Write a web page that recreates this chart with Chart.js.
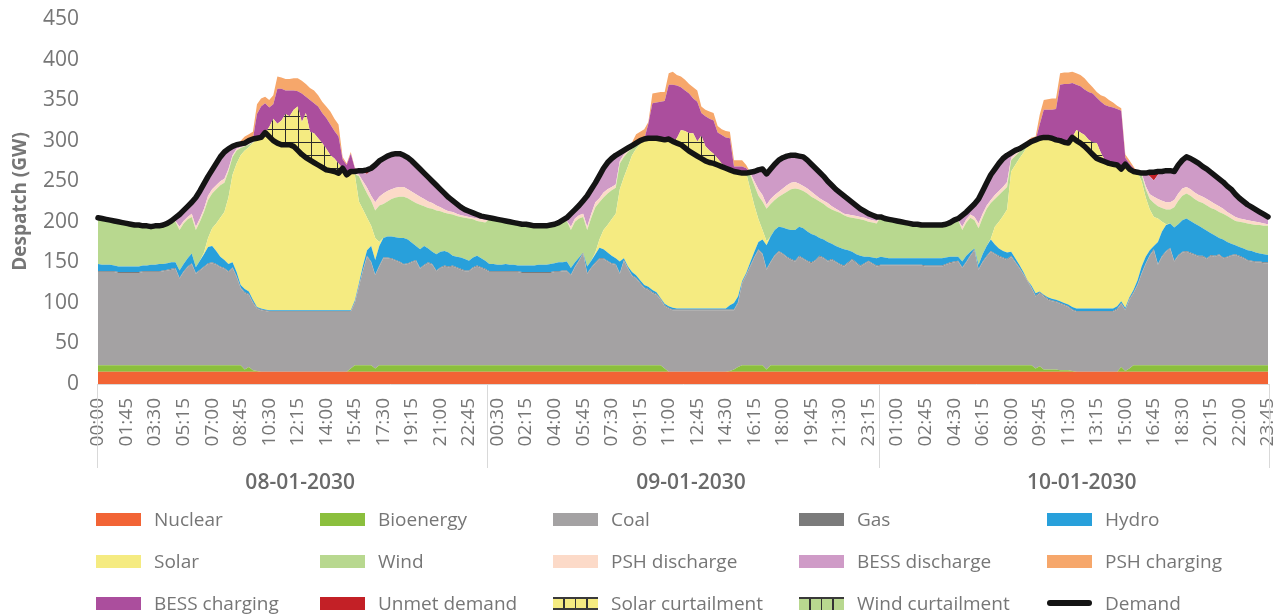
<!DOCTYPE html>
<html><head><meta charset="utf-8">
<script src="https://cdn.jsdelivr.net/npm/chart.js@4.4.1/dist/chart.umd.min.js"></script>
<style>
html,body{margin:0;padding:0;background:#fff;}
#wrap{position:relative;width:1282px;height:615px;overflow:hidden;}
#c{position:absolute;left:0;top:0;}
.lg{position:absolute;height:26px;display:flex;align-items:center;font-family:'Open Sans',sans-serif;font-size:19px;color:#767676;white-space:nowrap;}
.sw{width:45px;height:13px;margin-right:13px;box-sizing:border-box;flex:none;}
</style></head><body>
<div id="wrap"><canvas id="c" width="1282" height="615"></canvas><div id="legend"></div></div>
<script>
const DAYS = ["08-01-2030","09-01-2030","10-01-2030"];
const TIMES = ["00:00","00:15","00:30","00:45","01:00","01:15","01:30","01:45","02:00","02:15","02:30","02:45",
"03:00","03:15","03:30","03:45","04:00","04:15","04:30","04:45","05:00","05:15","05:30","05:45",
"06:00","06:15","06:30","06:45","07:00","07:15","07:30","07:45","08:00","08:15","08:30","08:45",
"09:00","09:15","09:30","09:45","10:00","10:15","10:30","10:45","11:00","11:15","11:30","11:45",
"12:00","12:15","12:30","12:45","13:00","13:15","13:30","13:45","14:00","14:15","14:30","14:45",
"15:00","15:15","15:30","15:45","16:00","16:15","16:30","16:45","17:00","17:15","17:30","17:45",
"18:00","18:15","18:30","18:45","19:00","19:15","19:30","19:45","20:00","20:15","20:30","20:45",
"21:00","21:15","21:30","21:45","22:00","22:15","22:30","22:45","23:00","23:15","23:30","23:45"];
const TICK_STEP = 7;
const Y_TICKS = [0,50,100,150,200,250,300,350,400,450];

const demand = [
205,204,203,202,201,200,199,198,197,196,196,195,195,194,195,195,196,198,201,205,209,214,219,224,
230,238,247,256,264,272,280,286,290,293,295,296,297,300,302,303,304,310,305,300,297,295,295,295,
293,288,283,279,276,273,270,267,264,263,262,260,266,258,262,262,263,263,264,266,270,275,278,281,
283,284,284,282,279,275,270,265,260,255,250,245,240,235,230,226,222,218,215,213,211,209,207,206,
205,204,203,202,201,200,199,198,197,197,196,195,195,195,195,196,197,199,202,205,210,215,220,226,
232,240,248,257,266,273,278,282,285,288,291,294,297,300,302,303,303,303,302,301,302,299,297,295,
291,287,284,281,278,275,273,272,270,268,266,264,262,261,260,260,261,262,264,265,259,265,271,276,
279,281,282,282,281,280,276,271,266,261,256,250,245,240,236,232,228,224,220,216,213,210,208,206,
206,204,203,202,201,200,199,198,197,197,196,196,196,196,196,196,197,199,202,204,208,212,217,222,
228,238,248,258,265,272,278,282,285,288,290,293,296,299,301,303,304,304,303,301,300,298,297,304,
300,297,293,288,283,278,276,274,272,271,270,265,271,265,262,261,260,260,261,261,262,262,263,263,
262,270,276,280,278,275,272,268,265,261,257,253,249,244,240,234,229,225,221,218,215,212,209,206];

const nuclear = [
15,15,15,15,15,15,15,15,15,15,15,15,15,15,15,15,15,15,15,15,15,15,15,15,
15,15,15,15,15,15,15,15,15,15,15,15,15,15,15,15,15,15,15,15,15,15,15,15,
15,15,15,15,15,15,15,15,15,15,15,15,15,15,15,15,15,15,15,15,15,15,15,15,
15,15,15,15,15,15,15,15,15,15,15,15,15,15,15,15,15,15,15,15,15,15,15,15,
15,15,15,15,15,15,15,15,15,15,15,15,15,15,15,15,15,15,15,15,15,15,15,15,
15,15,15,15,15,15,15,15,15,15,15,15,15,15,15,15,15,15,15,15,15,15,15,15,
15,15,15,15,15,15,15,15,15,15,15,15,15,15,15,15,15,15,15,15,15,15,15,15,
15,15,15,15,15,15,15,15,15,15,15,15,15,15,15,15,15,15,15,15,15,15,15,15,
15,15,15,15,15,15,15,15,15,15,15,15,15,15,15,15,15,15,15,15,15,15,15,15,
15,15,15,15,15,15,15,15,15,15,15,15,15,15,15,15,15,15,15,15,15,15,15,15,
15,15,15,15,15,15,15,15,15,15,15,15,15,15,15,15,15,15,15,15,15,15,15,15,
15,15,15,15,15,15,15,15,15,15,15,15,15,15,15,15,15,15,15,15,15,15,15,15];

const bioenergy = [
8,8,8,8,8,8,8,8,8,8,8,8,8,8,8,8,8,8,8,8,8,8,8,8,
8,8,8,8,8,8,8,8,8,8,8,8,3,6,2,1,0,0,0,0,0,0,0,0,
0,0,0,0,0,0,0,0,0,0,0,0,0,0,4,8,8,8,8,8,4,8,8,8,
8,8,8,8,8,8,8,8,8,8,8,8,8,8,8,8,8,8,8,8,8,8,8,8,
8,8,8,8,8,8,8,8,8,8,8,8,8,8,8,8,8,8,8,8,8,8,8,8,
8,8,8,8,8,8,8,8,8,8,8,8,8,8,8,8,8,8,8,4,0,0,0,0,
0,0,0,0,0,0,0,0,0,0,0,1,3,6,8,8,8,8,8,8,3,8,8,8,
8,8,8,8,8,8,8,8,8,8,8,8,8,8,8,8,8,8,8,8,8,8,8,8,
8,8,8,8,8,8,8,8,8,8,8,8,8,8,8,8,8,8,8,8,8,8,8,8,
8,8,8,8,8,8,8,8,8,8,8,8,8,8,4,7,3,3,3,3,2,2,2,1,
0,0,0,0,0,0,0,0,0,0,0,6,1,4,8,8,8,8,8,8,8,8,8,8,
8,8,8,8,8,8,8,8,8,8,8,8,8,8,8,8,8,8,8,8,8,8,8,8];

const coal = [
115,115,115,115,115,114,114,114,114,114,114,115,115,115,115,115,116,117,118,119,107,115,121,125,
113,117,121,125,126,124,121,119,115,120,109,95,94,89,83,77,76,75,74,74,74,74,74,74,
74,74,74,74,74,74,74,74,74,74,74,74,74,74,70,77,97,117,134,127,115,122,132,132,
131,129,127,124,125,127,129,119,123,126,124,116,120,122,121,122,120,118,116,116,120,122,120,118,
115,115,115,115,115,115,115,115,114,114,114,114,114,114,114,114,115,115,116,116,111,121,129,138,
113,120,126,131,131,128,125,124,113,129,119,110,107,101,95,93,89,87,81,77,78,76,76,76,
76,76,76,76,76,76,76,76,76,76,76,75,73,79,101,111,122,133,142,137,123,127,135,140,
137,133,130,128,134,131,128,126,129,134,132,128,130,127,124,122,126,130,126,122,125,128,125,122,
123,123,123,123,123,123,123,123,123,123,123,122,122,122,122,122,124,126,127,128,120,127,135,142,
118,127,134,140,137,134,132,130,134,127,120,112,104,95,89,90,90,86,84,83,82,80,78,75,
74,74,74,74,74,74,74,74,74,74,77,78,75,85,89,99,113,125,135,142,124,134,140,144,
128,135,139,140,138,136,134,134,131,135,134,136,132,133,135,136,134,132,129,128,127,127,126,126];

const gas = [
1,1,1,1,1,1,1,1,1,1,1,1,1,1,1,1,1,1,1,1,1,1,1,1,
1,1,1,1,1,1,1,1,1,1,1,1,1,1,1,1,1,1,1,1,1,1,1,1,
1,1,1,1,1,1,1,1,1,1,1,1,1,1,1,1,1,1,1,1,1,1,1,1,
1,1,1,1,1,1,1,1,1,1,1,1,1,1,1,1,1,1,1,1,1,1,1,1,
1,1,1,1,1,1,1,1,1,1,1,1,1,1,1,1,1,1,1,1,1,1,1,1,
1,1,1,1,1,1,1,1,1,1,1,1,1,1,1,1,1,1,1,1,1,1,1,1,
1,1,1,1,1,1,1,1,1,1,1,1,1,1,1,1,1,1,1,1,1,1,1,1,
1,1,1,1,1,1,1,1,1,1,1,1,1,1,1,1,1,1,1,1,1,1,1,1,
1,1,1,1,1,1,1,1,1,1,1,1,1,1,1,1,1,1,1,1,1,1,1,1,
1,1,1,1,1,1,1,1,1,1,1,1,1,1,1,1,1,1,1,1,1,1,1,1,
1,1,1,1,1,1,1,1,1,1,1,1,1,1,1,1,1,1,1,1,1,1,1,1,
1,1,1,1,1,1,1,1,1,1,1,1,1,1,1,1,1,1,1,1,1,1,1,1];

const hydro = [
9,8,8,8,7,7,7,7,7,7,7,7,7,8,8,9,8,8,8,7,9,9,10,12,
7,11,15,20,20,16,12,10,9,6,5,3,4,3,3,1,1,1,1,1,1,1,1,1,
1,1,1,1,1,1,1,1,1,1,1,1,1,1,1,2,3,5,7,19,18,24,24,26,
27,28,29,32,29,23,17,23,23,17,15,20,19,18,17,12,13,14,14,12,12,12,11,10,
9,9,8,8,9,8,8,7,8,8,8,8,9,9,9,10,10,11,10,11,8,5,3,0,
8,8,10,13,11,10,9,7,14,2,2,4,3,3,3,3,3,2,1,2,2,2,1,1,
1,1,1,1,1,1,1,1,1,1,1,5,8,7,2,2,4,6,9,17,29,31,31,30,
32,34,36,38,36,37,36,35,30,22,22,23,19,19,20,20,15,9,10,12,8,5,7,9,
10,9,8,8,8,8,8,8,8,8,8,9,9,9,9,9,8,7,6,5,7,7,4,1,
5,9,12,14,11,9,8,8,5,4,3,2,0,2,3,1,1,2,2,2,2,2,2,3,
3,3,3,3,3,3,3,3,3,3,3,2,2,2,3,5,8,8,6,4,27,30,32,30,
41,38,39,40,39,38,37,34,34,27,25,20,22,18,14,11,11,11,12,12,11,10,10,9];

const solar = [
0,0,0,0,0,0,0,0,0,0,0,0,0,0,0,0,0,0,0,0,0,0,0,0,
0,0,2,11,22,34,48,59,82,108,134,160,171,178,193,206,211,218,214,209,206,204,204,204,
202,197,192,188,185,182,179,176,173,172,171,169,175,167,171,155,101,69,40,25,27,5,0,0,
0,0,0,0,0,0,0,0,0,0,0,0,0,0,0,0,0,0,0,0,0,0,0,0,
0,0,0,0,0,0,0,0,0,0,0,0,0,0,0,0,0,0,0,0,0,0,0,0,
0,0,2,10,24,34,45,55,89,100,123,144,156,168,180,183,187,190,196,202,206,205,204,202,
198,194,191,188,185,182,180,179,177,175,173,167,162,153,133,123,90,57,28,12,5,0,0,0,
0,0,0,0,0,0,0,0,0,0,0,0,0,0,0,0,0,0,0,0,0,0,0,0,
0,0,0,0,0,0,0,0,0,0,0,0,0,0,0,0,0,0,0,0,0,0,0,0,
0,0,0,1,22,33,43,53,99,115,131,147,165,178,189,189,194,197,198,197,198,198,199,209,
207,204,200,195,190,185,183,181,179,178,174,163,177,158,146,133,105,73,50,36,29,12,1,0,
0,0,0,0,0,0,0,0,0,0,0,0,0,0,0,0,0,0,0,0,0,0,0,0];

const wind = [
57,57,56,55,55,55,54,53,52,51,51,49,49,47,48,47,48,49,49,50,50,50,48,45,
46,48,50,47,43,42,40,36,32,22,16,9,5,3,1,1,0,0,0,0,0,0,0,0,
0,0,0,0,0,0,0,0,0,0,0,0,0,0,0,1,31,30,30,31,34,45,42,43,
46,49,51,51,51,52,53,55,49,50,53,54,50,47,48,51,50,50,51,52,47,43,45,47,
55,54,54,53,52,52,51,51,51,51,50,49,48,48,48,48,48,49,50,50,47,50,48,44,
45,53,56,46,40,39,36,32,32,25,18,8,4,2,0,0,0,0,0,0,0,0,0,0,
0,0,0,0,0,0,0,0,0,0,0,0,0,0,0,0,18,25,29,35,40,40,37,37,
41,46,50,51,46,46,47,46,45,45,44,43,42,43,43,42,41,42,44,45,45,43,43,43,
49,48,48,47,46,45,44,43,42,42,41,41,41,41,41,41,41,42,44,45,39,41,42,35,
45,45,46,44,34,33,31,28,14,11,8,5,1,0,0,0,0,0,0,0,0,0,0,0,
0,0,0,0,0,0,0,0,0,0,0,0,0,0,0,0,8,10,13,17,15,17,18,17,
25,29,30,31,31,30,30,31,31,31,32,32,32,32,31,30,31,32,33,33,34,35,35,36];

const pshDischarge = [
0,0,0,0,0,0,0,0,0,0,0,0,0,0,0,0,0,0,0,1,4,3,3,4,
4,4,4,5,5,5,5,5,3,2,2,1,1,1,0,0,0,0,0,0,0,0,0,0,
0,0,0,0,0,0,0,0,0,0,0,0,0,0,0,1,2,5,7,6,10,11,13,13,
12,12,12,12,11,11,11,10,9,8,7,6,5,4,3,3,3,2,2,2,2,3,3,3,
0,0,0,0,0,0,0,0,0,0,0,0,0,0,0,0,0,0,0,0,4,4,4,4,
4,5,6,5,6,5,4,4,3,3,2,2,2,1,0,0,0,0,0,0,0,0,0,0,
0,0,0,0,0,0,0,0,0,0,0,0,0,0,0,0,2,5,8,8,5,6,6,6,
7,8,8,8,7,6,6,6,5,4,4,5,4,3,2,2,3,3,3,3,3,3,3,3,
0,0,0,0,0,0,0,0,0,0,0,0,0,0,0,0,0,0,0,0,4,4,4,4,
6,5,4,4,5,5,5,6,3,3,3,2,2,0,0,0,0,0,0,0,0,0,0,0,
0,0,0,0,0,0,0,0,0,0,0,0,0,0,0,0,2,4,6,8,9,9,9,9,
9,9,9,8,8,8,8,8,8,8,7,7,6,5,5,5,4,4,4,4,4,3,3,2];

const bessDischarge = [
0,0,0,0,0,0,0,0,0,0,0,0,0,0,0,0,0,0,2,4,15,13,13,14,
36,34,31,24,24,27,30,33,25,11,5,4,3,4,4,1,0,0,0,0,0,0,0,0,
0,0,0,0,0,0,0,0,0,0,0,0,0,0,0,2,5,11,17,32,46,44,43,43,
43,42,41,39,39,38,36,34,32,30,27,25,22,20,17,14,12,10,8,7,6,5,4,4,
2,2,2,2,1,1,1,1,0,0,0,0,0,0,0,0,0,0,2,4,16,11,12,16,
38,30,24,28,30,33,35,36,10,5,3,2,1,1,0,0,0,0,0,0,0,0,0,0,
0,0,0,0,0,0,0,0,0,0,0,0,0,0,0,0,1,12,24,30,38,37,38,39,
38,36,34,33,34,36,35,34,33,32,30,27,26,24,23,22,19,16,13,10,8,7,6,5,
0,0,0,0,0,0,0,0,0,0,0,0,0,0,0,0,0,0,1,2,14,9,8,16,
30,28,28,31,32,34,35,33,6,4,1,1,0,0,0,0,0,0,0,0,0,0,0,0,
0,0,0,0,0,0,0,0,0,0,0,0,0,0,0,0,0,16,22,20,30,36,39,39,
35,35,35,37,38,39,39,37,37,36,35,34,33,32,31,28,25,22,19,17,15,13,11,9];

const unmetDemand = [
0,0,0,0,0,0,0,0,0,0,0,0,0,0,0,0,0,0,0,0,0,0,0,0,
0,0,0,0,0,0,0,0,0,0,0,0,0,0,0,0,0,0,0,0,0,0,0,0,
0,0,0,0,0,0,0,0,0,0,0,0,0,0,0,0,0,2,5,2,0,0,0,0,
0,0,0,0,0,0,0,0,0,0,0,0,0,0,0,0,0,0,0,0,0,0,0,0,
0,0,0,0,0,0,0,0,0,0,0,0,0,0,0,0,0,0,0,0,0,0,0,0,
0,0,0,0,0,0,0,0,0,0,0,0,0,0,0,0,0,0,0,0,0,0,0,0,
0,0,0,0,0,0,0,0,0,0,0,0,0,0,0,0,0,0,0,2,0,0,0,0,
0,0,0,0,0,0,0,0,0,0,0,0,0,0,0,0,0,0,0,0,0,0,0,0,
0,0,0,0,0,0,0,0,0,0,0,0,0,0,0,0,0,0,0,0,0,0,0,0,
0,0,0,0,0,0,0,0,0,0,0,0,0,0,0,0,0,0,0,0,0,0,0,0,
0,0,0,0,0,0,0,0,0,0,0,0,0,0,0,0,0,0,5,10,4,0,0,0,
0,0,0,0,0,0,0,0,0,0,0,0,0,0,0,0,0,0,0,0,0,0,0,0];

const solarCurtailment = [
0,0,0,0,0,0,0,0,0,0,0,0,0,0,0,0,0,0,0,0,0,0,0,0,
0,0,0,0,0,0,0,0,0,0,0,0,0,0,0,0,0,0,12,27,24,30,38,35,
45,54,40,55,35,36,33,30,26,19,16,12,0,0,0,0,0,0,0,0,0,0,0,0,
0,0,0,0,0,0,0,0,0,0,0,0,0,0,0,0,0,0,0,0,0,0,0,0,
0,0,0,0,0,0,0,0,0,0,0,0,0,0,0,0,0,0,0,0,0,0,0,0,
0,0,0,0,0,0,0,0,0,0,0,0,0,0,0,0,0,0,0,0,0,0,6,18,
21,22,25,18,28,18,15,12,8,4,2,0,0,0,0,0,0,0,0,0,0,0,0,0,
0,0,0,0,0,0,0,0,0,0,0,0,0,0,0,0,0,0,0,0,0,0,0,0,
0,0,0,0,0,0,0,0,0,0,0,0,0,0,0,0,0,0,0,0,0,0,0,0,
0,0,0,0,0,0,0,0,0,0,0,0,0,0,0,0,0,0,0,0,0,0,0,0,
13,13,14,13,15,19,9,2,0,0,0,0,0,0,0,0,0,0,0,0,0,0,0,0,
0,0,0,0,0,0,0,0,0,0,0,0,0,0,0,0,0,0,0,0,0,0,0,0];

const windCurtailment = [
0,0,0,0,0,0,0,0,0,0,0,0,0,0,0,0,0,0,0,0,0,0,0,0,
0,0,0,0,0,0,0,0,0,0,0,0,0,0,0,0,0,0,0,0,0,0,0,0,
0,0,0,0,0,0,0,0,0,0,0,0,0,0,0,0,0,0,0,0,0,0,0,0,
0,0,0,0,0,0,0,0,0,0,0,0,0,0,0,0,0,0,0,0,0,0,0,0,
0,0,0,0,0,0,0,0,0,0,0,0,0,0,0,0,0,0,0,0,0,0,0,0,
0,0,0,0,0,0,0,0,0,0,0,0,0,0,0,0,0,0,0,0,0,0,0,0,
0,0,0,0,0,0,0,0,0,0,0,0,0,0,0,0,0,0,0,0,0,0,0,0,
0,0,0,0,0,0,0,0,0,0,0,0,0,0,0,0,0,0,0,0,0,0,0,0,
0,0,0,0,0,0,0,0,0,0,0,0,0,0,0,0,0,0,0,0,0,0,0,0,
0,0,0,0,0,0,0,0,0,0,0,0,0,0,0,0,0,0,0,0,0,0,0,0,
0,0,0,0,0,0,0,0,0,0,0,0,0,0,0,0,0,0,0,0,0,0,0,0,
0,0,0,0,0,0,0,0,0,0,0,0,0,0,0,0,0,0,0,0,0,0,0,0];

const bessCharging = [
0,0,0,0,0,0,0,0,0,0,0,0,0,0,0,0,0,0,0,0,0,0,0,0,
0,0,0,0,0,0,0,0,0,0,0,0,0,0,0,30,38,36,24,18,43,39,29,32,
24,19,35,20,39,37,39,37,38,38,34,33,11,12,22,4,0,0,0,0,0,0,0,0,
0,0,0,0,0,0,0,0,0,0,0,0,0,0,0,0,0,0,0,0,0,0,0,0,
0,0,0,0,0,0,0,0,0,0,0,0,0,0,0,0,0,0,0,0,0,0,0,0,
0,0,0,0,0,0,0,0,0,0,0,0,0,0,0,18,43,44,46,48,67,70,65,53,
50,49,43,49,28,37,39,41,32,35,36,39,6,7,8,6,0,0,0,0,0,0,0,0,
0,0,0,0,0,0,0,0,0,0,0,0,0,0,0,0,0,0,0,0,0,0,0,0,
0,0,0,0,0,0,0,0,0,0,0,0,0,0,0,0,0,0,0,0,0,0,0,0,
0,0,0,0,0,0,0,0,0,0,0,0,0,0,0,17,34,34,35,38,69,72,73,67,
56,57,56,59,60,56,63,68,70,70,69,72,8,7,4,0,0,0,0,0,0,0,0,0,
0,0,0,0,0,0,0,0,0,0,0,0,0,0,0,0,0,0,0,0,0,0,0,0];

const pshCharging = [
0,0,0,0,0,0,0,0,0,0,0,0,0,0,0,0,0,0,0,0,0,0,0,0,
0,0,0,0,0,0,0,0,0,0,0,4,8,8,9,12,10,8,9,11,15,14,14,14,
15,16,16,16,15,16,14,14,14,16,15,15,3,2,2,1,0,0,0,0,0,0,0,0,
0,0,0,0,0,0,0,0,0,0,0,0,0,0,0,0,0,0,0,0,0,0,0,0,
0,0,0,0,0,0,0,0,0,0,0,0,0,0,0,0,0,0,0,0,0,0,0,0,
0,0,0,0,0,0,0,0,0,0,0,4,11,11,12,2,12,12,12,11,14,16,13,13,
13,12,14,14,8,8,9,9,8,7,8,8,8,8,8,4,0,0,0,0,0,0,0,0,
0,0,0,0,0,0,0,0,0,0,0,0,0,0,0,0,0,0,0,0,0,0,0,0,
0,0,0,0,0,0,0,0,0,0,0,0,0,0,0,0,0,0,0,0,0,0,0,0,
0,0,0,0,0,0,0,0,0,0,0,0,4,5,4,12,12,13,14,13,14,14,14,14,
14,14,14,11,8,7,8,10,8,6,4,3,4,4,2,0,0,0,0,0,0,0,0,0,
0,0,0,0,0,0,0,0,0,0,0,0,0,0,0,0,0,0,0,0,0,0,0,0];

// ---- chart setup ----
const canvas = document.getElementById('c');
const ctx0 = canvas.getContext('2d');
function hatch(bg) {
  const c = document.createElement('canvas'); c.width = 13; c.height = 13;
  const g = c.getContext('2d');
  g.fillStyle = bg; g.fillRect(0, 0, 13, 13);
  g.fillStyle = '#2a2a2a'; g.fillRect(12, 0, 1, 13); g.fillRect(0, 12, 13, 1);
  return ctx0.createPattern(c, 'repeat');
}

const STACK = [
  ['Nuclear', nuclear, '#f26435'],
  ['Bioenergy', bioenergy, '#8bbf3d'],
  ['Coal', coal, '#a4a2a3'],
  ['Gas', gas, '#7b7b7b'],
  ['Hydro', hydro, '#28a0db'],
  ['Solar', solar, '#f5eb81'],
  ['Wind', wind, '#b8d88f'],
  ['PSH discharge', pshDischarge, '#fcdac8'],
  ['BESS discharge', bessDischarge, '#cf9bc7'],
  ['Unmet demand', unmetDemand, '#c32026'],
  ['Solar curtailment', solarCurtailment, hatch('#f5eb81')],
  ['Wind curtailment', windCurtailment, hatch('#b8d88f')],
  ['BESS charging', bessCharging, '#ab4e9d'],
  ['PSH charging', pshCharging, '#f6a76b']
];
const N = DAYS.length * TIMES.length;
[['demand', demand]].concat(STACK.map(s => [s[0], s[1]])).forEach(([n, a]) => {
  if (a.length !== N) throw new Error('Series ' + n + ' has ' + a.length + ' values, expected ' + N);
});

const labels = [];
DAYS.forEach(() => TIMES.forEach(t => labels.push(t)));

const datasets = STACK.map((s, i) => ({
  label: s[0], data: s[1], backgroundColor: s[2],
  borderColor: 'rgba(0,0,0,0)', borderWidth: 0, pointRadius: 0, tension: 0,
  fill: i === 0 ? 'origin' : '-1', stack: 'gen'
}));
datasets.push({
  label: 'Demand', data: demand, borderColor: '#141414', borderWidth: 5.5,
  backgroundColor: '#141414', fill: false, pointRadius: 0, tension: 0,
  stack: 'dem', order: -1, borderJoinStyle: 'round', borderCapStyle: 'round', clip: 6
});

const DAY_LABEL_SHIFT = 8;
const dayAxis = {
  id: 'dayAxis',
  afterDraw(chart) {
    const { ctx, chartArea, scales } = chart; const x = scales.x;
    const per = TIMES.length;
    ctx.save();
    ctx.strokeStyle = '#d9d9d9'; ctx.lineWidth = 1;
    const edges = [];
    for (let d = 0; d <= DAYS.length; d++) {
      let px;
      if (d === 0) px = chartArea.left - 1;
      else if (d === DAYS.length) px = chartArea.right + 1;
      else px = (x.getPixelForValue(d * per - 1) + x.getPixelForValue(d * per)) / 2;
      edges.push(px);
      const xx = Math.round(px) + 0.5;
      ctx.beginPath(); ctx.moveTo(xx, chartArea.bottom); ctx.lineTo(xx, 468); ctx.stroke();
    }
    ctx.fillStyle = '#6a6a6a';
    ctx.font = "600 21px 'Open Sans'";
    ctx.textAlign = 'center'; ctx.textBaseline = 'middle';
    DAYS.forEach((d, i) => ctx.fillText(d, (edges[i] + edges[i + 1]) / 2 + DAY_LABEL_SHIFT, 483));
    ctx.restore();
  }
};

Chart.defaults.font.family = "'Open Sans', sans-serif";
const chart = new Chart(canvas, {
  type: 'line',
  data: { labels, datasets },
  options: {
    responsive: false, animation: false, devicePixelRatio: 1,
    layout: { padding: { left: 0, right: 14, top: 19, bottom: 0 } },
    plugins: { legend: { display: false }, tooltip: { enabled: false } },
    events: [],
    scales: {
      x: {
        type: 'category', offset: false,
        grid: { display: false, drawTicks: false },
        border: { display: true, color: '#d9d9d9', width: 1 },
        ticks: {
          autoSkip: false, maxRotation: 90, minRotation: 90, padding: 14,
          color: '#767676', font: { size: 19 },
          callback: (v, i) => (i % TICK_STEP === 0 ? labels[i] : null)
        },
        afterFit: s => { s.height = 231; s.paddingLeft = 0; s.paddingRight = 0; }
      },
      y: {
        stacked: true, min: Y_TICKS[0], max: Y_TICKS[Y_TICKS.length - 1],
        afterBuildTicks: s => { s.ticks = Y_TICKS.map(v => ({ value: v })); },
        ticks: { color: '#767676', font: { size: 21 }, padding: 19 },
        grid: { display: false, drawTicks: false },
        border: { display: false },
        title: { display: true, text: 'Despatch (GW)', color: '#767676', font: { size: 19, weight: 'bold' }, padding: { top: 9, bottom: 0 } },
        afterFit: s => { s.width = 98; s.paddingTop = 0; s.paddingBottom = 0; }
      }
    }
  },
  plugins: [dayAxis]
});

// ---- legend (HTML, built from the datasets) ----
const LEGEND_ORDER = [
  ['Nuclear','Bioenergy','Coal','Gas','Hydro'],
  ['Solar','Wind','PSH discharge','BESS discharge','PSH charging'],
  ['BESS charging','Unmet demand','Solar curtailment','Wind curtailment','Demand']
];
const COL_X = [96, 320, 553, 799, 1047];
const ROW_Y = [519, 561, 603];
const legendEl = document.getElementById('legend');
LEGEND_ORDER.forEach((row, r) => row.forEach((name, c) => {
  const ds = chart.data.datasets.find(d => d.label === name);
  const item = document.createElement('div');
  item.className = 'lg';
  item.style.left = COL_X[c] + 'px';
  item.style.top = (ROW_Y[r] - 13) + 'px';
  const sw = document.createElement('div');
  sw.className = 'sw';
  if (name === 'Demand') {
    sw.style.height = '6px'; sw.style.background = ds.borderColor; sw.style.borderRadius = '3px';
  } else if (name === 'Solar curtailment' || name === 'Wind curtailment') {
    const base = name === 'Solar curtailment' ? '#f5eb81' : '#b8d88f';
    sw.style.background = 'repeating-linear-gradient(90deg, ' + base + ' 0px, ' + base + ' 10px, #333 10px, #333 11.5px)';
    sw.style.borderTop = '2px solid #3a3a3a';
    if (name === 'Solar curtailment') sw.style.borderBottom = '2px solid #3a3a3a';
  } else {
    sw.style.background = ds.backgroundColor;
  }
  const tx = document.createElement('span');
  tx.textContent = name;
  item.appendChild(sw); item.appendChild(tx);
  legendEl.appendChild(item);
}));
</script></body></html>
